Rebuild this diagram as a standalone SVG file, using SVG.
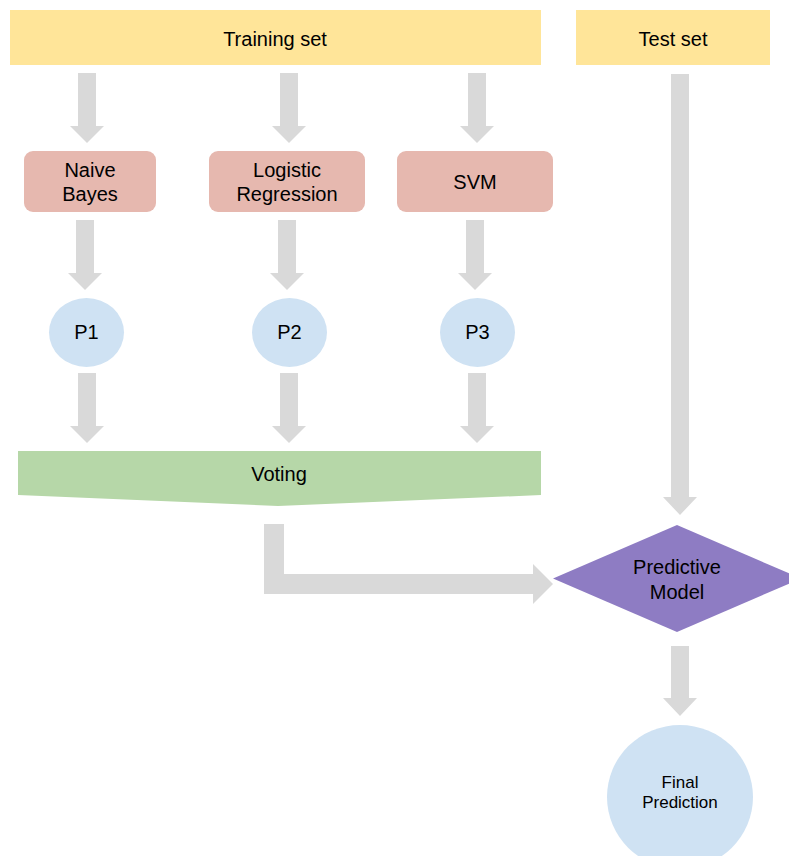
<svg xmlns="http://www.w3.org/2000/svg" width="789" height="856" viewBox="0 0 789 856">
<style>
text{font-family:"Liberation Sans",Arial,sans-serif;font-size:20px;fill:#000;text-anchor:middle}
.yel{fill:#FFE599}
.pink{fill:#E6B8AF}
.blue{fill:#CFE2F3}
.green{fill:#B6D7A8}
.purple{fill:#8E7CC3}
.arr{fill:#D9D9D9}
.small{font-size:17px}
</style>
<defs>
<path id="down" d="M-9,0 H9 V53 H17 L0,70 L-17,53 H-9 Z"/>
</defs>
<rect width="789" height="856" fill="#FFFFFF"/>
<g id="connectors" class="arr">
<use href="#down" x="87" y="73"/>
<use href="#down" x="289" y="73"/>
<use href="#down" x="477" y="73"/>
<use href="#down" x="85" y="220"/>
<use href="#down" x="287" y="220"/>
<use href="#down" x="475" y="220"/>
<use href="#down" x="87" y="373"/>
<use href="#down" x="289" y="373"/>
<use href="#down" x="477" y="373"/>
<path d="M671,74 H689 V497 H697 L680,515 L663,497 H671 Z"/>
<path d="M671,646 H689 V698 H697 L680,716 L663,698 H671 Z"/>
<path d="M264,524 H284 V574 H533 V564 L553,584 L533,604 V594 H264 Z"/>
</g>
<g id="training-set">
<rect class="yel" x="10" y="10" width="531" height="55"/>
<text x="275" y="46">Training set</text>
</g>
<g id="test-set">
<rect class="yel" x="576" y="10" width="194" height="55"/>
<text x="673" y="46">Test set</text>
</g>
<g id="naive-bayes">
<rect class="pink" x="24" y="151" width="132" height="61" rx="9"/>
<text x="90" y="177">Naive</text>
<text x="90" y="201">Bayes</text>
</g>
<g id="logistic-regression">
<rect class="pink" x="209" y="151" width="156" height="61" rx="9"/>
<text x="287" y="177">Logistic</text>
<text x="287" y="201">Regression</text>
</g>
<g id="svm">
<rect class="pink" x="397" y="151" width="156" height="61" rx="9"/>
<text x="475" y="189">SVM</text>
</g>
<g id="p1">
<ellipse class="blue" cx="86.5" cy="332.5" rx="37.5" ry="34.5"/>
<text x="86.5" y="339">P1</text>
</g>
<g id="p2">
<ellipse class="blue" cx="289.5" cy="332.5" rx="37.5" ry="34.5"/>
<text x="289.5" y="339">P2</text>
</g>
<g id="p3">
<ellipse class="blue" cx="477.5" cy="332.5" rx="37.5" ry="34.5"/>
<text x="477.5" y="339">P3</text>
</g>
<g id="voting">
<polygon class="green" points="18,451 541,451 541,495 278,506 18,495"/>
<text x="279" y="481">Voting</text>
</g>
<g id="predictive-model">
<polygon class="purple" points="677,525 801,578.5 677,632 553,578.5"/>
<text x="677" y="574">Predictive</text>
<text x="677" y="599">Model</text>
</g>
<g id="final-prediction">
<ellipse class="blue" cx="680" cy="797" rx="73" ry="72"/>
<text class="small" x="680" y="788">Final</text>
<text class="small" x="680" y="808">Prediction</text>
</g>
</svg>
